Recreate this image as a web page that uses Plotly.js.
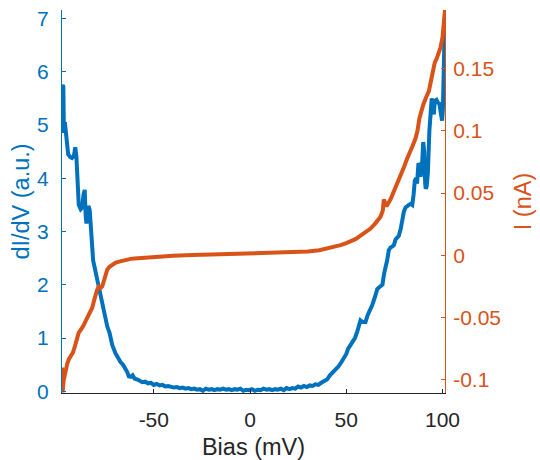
<!DOCTYPE html>
<html>
<head>
<meta charset="utf-8">
<script src="https://cdn.plot.ly/plotly-3.0.1.min.js"></script>
<style>html,body{margin:0;padding:0;background:#fff;}#chart{width:540px;height:460px;}</style>
</head>
<body>
<div id="chart"></div>
<script>
// Bias (mV) for dI/dV curve
const biasDidv = [-97.7,-97.4,-97.0,-96.7,-96.2,-95.5,-94.5,-93.5,-92.5,-91.5,-90.8,-90.2,-89.5,-89.0,-88.0,-87.2,-86.5,-85.9,-85.4,-85.0,-84.5,-84.0,-83.3,-82.6,-82.0,-81.5,-80,-78.6,-77,-75.5,-74.2,-73,-71.6,-70,-68.5,-67.3,-66,-64.8,-63.8,-63,-62,-61,-60,-58.5,-57,-56,-54.5,-53,-51.5,-50,-48.5,-47,-45.5,-44,-42.5,-41,-39.5,-38,-36.5,-35,-33.5,-32,-30.5,-29,-27.5,-26,-24.5,-23,-21.5,-20,-18.5,-17,-15.5,-14,-12.5,-11,-9.5,-8,-6.5,-5,-3.5,-2,-0.5,1,2.5,4,5.5,7,8.5,10,11.5,13,14.5,16,17.5,19,20.5,22,23.5,25,26.5,28,29.5,31,32.5,34,35.5,37,38.5,40,41.5,43,44.5,46,47.5,48.8,50,51,52.2,53.5,54.5,55.7,56.5,57.4,58.5,60,61,62.5,63.5,65,66.1,67,68,68.8,69.6,70.4,71.2,72.1,73,74,74.7,75.6,76.5,77.3,78.3,79.2,79.9,80.8,81.5,82.5,83.5,84.3,85.0,85.6,86.3,86.8,87.5,88.1,88.6,89.3,90.0,90.5,91.0,91.3,91.8,92.4,93.2,94.0,94.4,95.0,95.5,96.0,96.9,97.6,98.4,99.2,99.8,100.2,100.6,101.0,101.3];
// dI/dV (a.u.)
const didv = [5.6,5.75,5.72,4.85,5.05,4.8,4.45,4.4,4.38,4.42,4.58,4.4,3.8,3.5,3.42,3.45,3.7,3.78,3.3,3.15,3.3,3.48,3.4,3.0,2.6,2.45,2.2,1.95,1.7,1.45,1.22,1.1,0.87,0.72,0.62,0.55,0.5,0.43,0.36,0.28,0.27,0.3,0.24,0.22,0.2,0.17,0.18,0.15,0.16,0.12,0.14,0.11,0.12,0.09,0.1,0.08,0.07,0.08,0.06,0.07,0.05,0.06,0.04,0.05,0.03,0.04,0.01,0.05,0.03,0.04,0.02,0.04,0.03,0.05,0.03,0.04,0.02,0.04,0.03,0.05,0.01,0.03,0.02,0.04,0.01,0.03,0.02,0.05,0.03,0.04,0.02,0.04,0.03,0.05,0.02,0.06,0.04,0.06,0.05,0.09,0.07,0.1,0.08,0.11,0.1,0.13,0.12,0.16,0.19,0.22,0.3,0.36,0.4,0.47,0.55,0.62,0.7,0.8,0.86,0.95,1.0,1.12,1.2,1.33,1.3,1.3,1.42,1.52,1.62,1.78,1.92,1.95,1.97,2.0,2.2,2.3,2.45,2.65,2.7,2.72,2.74,2.85,2.88,2.92,3.05,3.3,3.37,3.45,3.48,3.5,3.52,3.5,3.7,3.95,4.0,3.9,4.28,4.25,4.03,4.2,4.68,4.5,3.9,3.8,3.85,4.1,4.9,5.45,5.5,5.3,5.2,5.45,5.47,5.42,5.4,5.2,5.08,5.3,6.1,6.9,7.1];
// Bias (mV) for current curve
const biasI = [-97.7,-97.4,-96.8,-96,-95,-94,-93,-92,-91,-90,-89,-88,-87,-86.4,-85.5,-84.6,-83.5,-82.5,-82,-81,-80.3,-79.5,-78.6,-77.5,-76.8,-76,-75,-74.2,-73,-71.5,-70,-68,-66,-64,-62,-60,-55,-50,-45,-40,-30,-25,-20,-10,0,10,20,26,30,36,42,47,50,52,55,57.4,60,62.6,65,67.8,69,69.5,70.2,70.9,73,75,76.5,78,80,81.7,83,84.5,86,87,88,89,90,91.5,92.9,94,95,96,97,98,99,100,100.8,101.3];
// I (nA)
const current = [-0.09,-0.11,-0.1,-0.093,-0.087,-0.083,-0.08,-0.078,-0.073,-0.068,-0.062,-0.06,-0.058,-0.056,-0.053,-0.05,-0.047,-0.044,-0.042,-0.036,-0.031,-0.028,-0.025,-0.026,-0.025,-0.02,-0.015,-0.0115,-0.0092,-0.0073,-0.006,-0.005,-0.0041,-0.0034,-0.0028,-0.0025,-0.0018,-0.0012,-0.0007,-0.0003,0.0002,0.0004,0.0006,0.001,0.0015,0.0018,0.0022,0.0026,0.0031,0.0041,0.006,0.0082,0.0098,0.011,0.0132,0.0158,0.0185,0.0215,0.0255,0.031,0.036,0.045,0.042,0.0395,0.045,0.052,0.0585,0.064,0.071,0.078,0.082,0.088,0.094,0.1,0.11,0.116,0.121,0.127,0.1316,0.14,0.149,0.155,0.158,0.162,0.167,0.175,0.185,0.197];

const xTickVals = [-50, 0, 50, 100];
const xTickText = ['-50', '0', '50', '100'];
const yTickVals = [0, 1, 2, 3, 4, 5, 6, 7];
const yTickText = ['0', '1', '2', '3', '4', '5', '6', '7'];
const y2TickVals = [-0.1, -0.05, 0, 0.05, 0.1, 0.15];
const y2TickText = ['-0.1', '-0.05', '0', '0.05', '0.1', '0.15'];

const BLUE = '#0072BD';
const ORANGE = '#D95319';
const DARK = '#262626';
const FONT = 'Liberation Sans, Arial, sans-serif';
const TICK_SIZE = 21;
const TITLE_SIZE = 23.5;

const traces = [
  {x: biasDidv, y: didv, type: 'scatter', mode: 'lines', yaxis: 'y',
   line: {color: BLUE, width: 4}, hoverinfo: 'skip'},
  {x: biasI, y: current, type: 'scatter', mode: 'lines', yaxis: 'y2',
   line: {color: ORANGE, width: 4}, hoverinfo: 'skip'}
];

const layout = {
  width: 540, height: 460, autosize: false,
  margin: {l: 61.5, r: 95, t: 10, b: 67, pad: 0},
  paper_bgcolor: '#ffffff', plot_bgcolor: '#ffffff',
  showlegend: false,
  font: {family: FONT, size: TICK_SIZE, color: DARK},
  xaxis: {
    range: [-97.7, 101.3], tickvals: xTickVals, ticktext: xTickText,
    ticks: 'inside', ticklen: 4, tickwidth: 1, tickcolor: DARK,
    showline: true, linecolor: DARK, linewidth: 1, mirror: false,
    showgrid: false, zeroline: false,
    tickfont: {family: FONT, size: TICK_SIZE, color: DARK},
    ticklabelstandoff: 8,
    title: {text: 'Bias (mV)', font: {family: FONT, size: TITLE_SIZE, color: DARK}, standoff: 14}
  },
  yaxis: {
    range: [-0.032, 7.158], tickvals: yTickVals, ticktext: yTickText,
    ticks: 'inside', ticklen: 4, tickwidth: 1, tickcolor: BLUE,
    showline: true, linecolor: BLUE, linewidth: 1,
    showgrid: false, zeroline: false,
    tickfont: {family: FONT, size: TICK_SIZE, color: BLUE},
    ticklabelstandoff: 8,
    title: {text: 'dI/dV (a.u.)', font: {family: FONT, size: TITLE_SIZE, color: BLUE}, standoff: 0}
  },
  yaxis2: {
    range: [-0.1105, 0.197], tickvals: y2TickVals, ticktext: y2TickText,
    overlaying: 'y', side: 'right', anchor: 'x',
    ticks: 'inside', ticklen: 4, tickwidth: 1, tickcolor: ORANGE,
    showline: true, linecolor: ORANGE, linewidth: 1,
    showgrid: false, zeroline: false,
    tickfont: {family: FONT, size: TICK_SIZE, color: ORANGE},
    ticklabelstandoff: 3,
    title: {text: 'I (nA)', font: {family: FONT, size: TITLE_SIZE, color: ORANGE}, standoff: 14}
  }
};

Plotly.newPlot('chart', traces, layout, {staticPlot: true, displayModeBar: false});
</script>
</body>
</html>
